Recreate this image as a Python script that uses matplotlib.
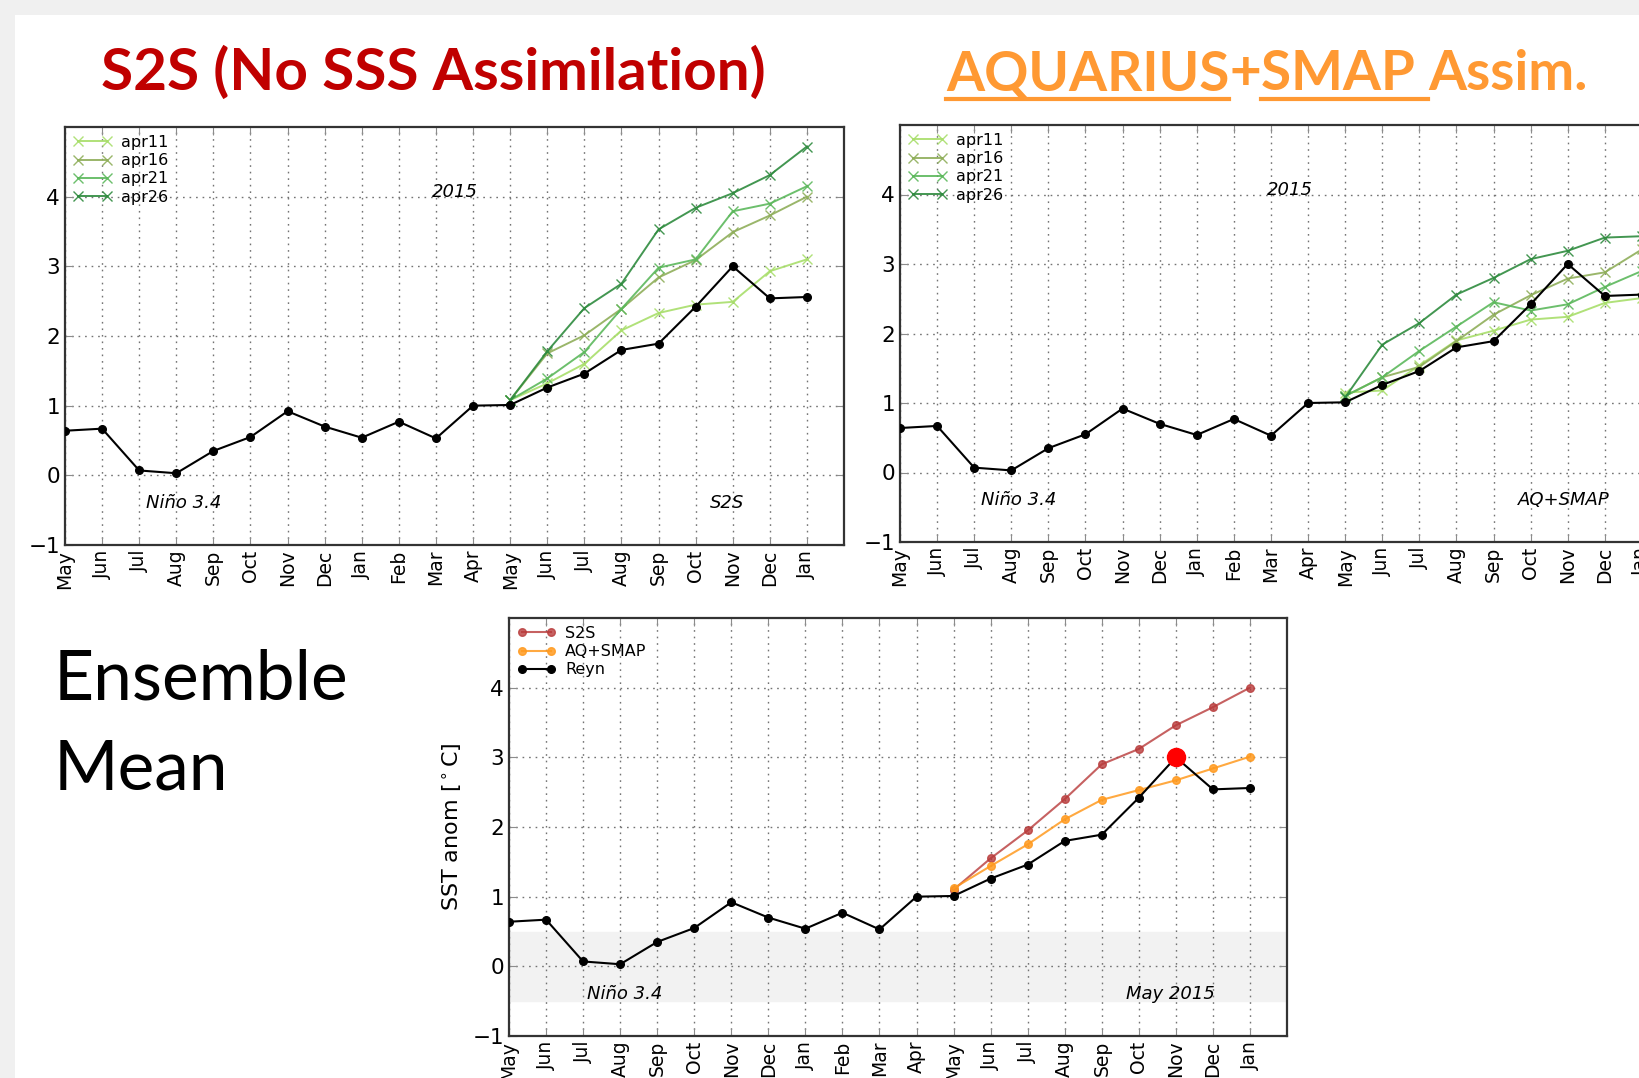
import matplotlib
matplotlib.use('Agg')
import matplotlib.pyplot as plt
from matplotlib.patches import Rectangle
from matplotlib.lines import Line2D

# ----------------------
#       data
# ----------------------
months = ['May', 'Jun', 'Jul', 'Aug', 'Sep', 'Oct', 'Nov', 'Dec', 'Jan', 'Feb', 'Mar',
          'Apr', 'May', 'Jun', 'Jul', 'Aug', 'Sep', 'Oct', 'Nov', 'Dec', 'Jan']
reyn = [0.64, 0.67, 0.07, 0.03, 0.35, 0.55, 0.92, 0.70, 0.54, 0.77, 0.53,
        1.00, 1.01, 1.26, 1.46, 1.80, 1.89, 2.42, 3.00, 2.54, 2.56]
fc_start = 12   # forecasts start at the second May

members = ['apr11', 'apr16', 'apr21', 'apr26']
s2s_apr11 = [1.08, 1.32, 1.60, 2.08, 2.33, 2.45, 2.49, 2.93, 3.10]
s2s_apr16 = [1.08, 1.75, 2.01, 2.39, 2.84, 3.09, 3.49, 3.73, 4.00]
s2s_apr21 = [1.08, 1.39, 1.77, 2.39, 2.98, 3.10, 3.79, 3.90, 4.15]
s2s_apr26 = [1.08, 1.78, 2.40, 2.75, 3.53, 3.84, 4.05, 4.31, 4.72]

aq_apr11 = [1.15, 1.18, 1.54, 1.90, 2.04, 2.20, 2.24, 2.44, 2.51]
aq_apr16 = [1.10, 1.37, 1.52, 1.89, 2.27, 2.55, 2.79, 2.88, 3.21]
aq_apr21 = [1.10, 1.37, 1.75, 2.10, 2.45, 2.33, 2.42, 2.67, 2.90]
aq_apr26 = [1.08, 1.84, 2.15, 2.56, 2.80, 3.07, 3.19, 3.38, 3.40]

ens_s2s = [1.10, 1.55, 1.95, 2.40, 2.90, 3.12, 3.46, 3.72, 4.00]
ens_aq = [1.12, 1.44, 1.75, 2.11, 2.39, 2.53, 2.67, 2.84, 3.01]
peak_idx = 18   # Nov 2015 peak, marked by the red dot

member_colors = ['#a8de6a', '#8fae5a', '#5cb85c', '#2e8b3e']

W, H = 1640, 1078


def fig_rect(l, t, r, b):
    # pixel box -> figure fraction
    return [l / W, 1 - b / H, (r - l) / W, (b - t) / H]


def style_axes(ax):
    ax.set_xlim(0, 21)
    ax.set_ylim(-1, 5)
    ax.set_xticks(range(len(months)))
    ax.set_xticklabels(months, rotation=90, fontsize=13.5)
    ax.set_yticks(range(-1, 5))
    ax.tick_params(axis='y', labelsize=15.5)
    ax.grid(True, color='0.45', linestyle=(0, (1.2, 3.5)), linewidth=1)
    ax.tick_params(direction='in', top=True, right=True, length=6, color='0.55')
    for sp in ax.spines.values():
        sp.set_linewidth(1.6)
        sp.set_color('0.2')
    ax.set_axisbelow(True)


def add_legend(ax):
    ax.legend(loc='upper left', frameon=False, fontsize=11.5, numpoints=2,
              handlelength=2.4, labelspacing=0.2, borderaxespad=0.3,
              handletextpad=0.6, borderpad=0.2)


def plot_reyn(ax):
    ax.plot(range(len(reyn)), reyn, '-o', color='black', lw=1.5, ms=5.5, zorder=4)


def plot_members(ax, series):
    x = range(fc_start, fc_start + len(series[0]))
    for name, vals, col in zip(members, series, member_colors):
        ax.plot(x, vals, '-x', color=col, lw=1.4, ms=7, mew=1, alpha=0.9, label=name)
    add_legend(ax)


fig = plt.figure(figsize=(16.4, 10.78), dpi=100, facecolor='#f0f0f0')
fig.add_artist(Rectangle((15 / W, 0), 1, 1 - 15 / H, transform=fig.transFigure,
                         facecolor='white', edgecolor='none', zorder=-5))

# top left: S2S members
ax1 = fig.add_axes(fig_rect(65, 127, 844, 545))
plot_members(ax1, [s2s_apr11, s2s_apr16, s2s_apr21, s2s_apr26])
plot_reyn(ax1)
style_axes(ax1)
ax1.text(10.5, 4.07, '2015', style='italic', fontsize=13, ha='center', va='center')
ax1.text(3.2, -0.4, 'Niño 3.4', style='italic', fontsize=13, ha='center', va='center')
ax1.text(17.85, -0.4, 'S2S', style='italic', fontsize=13, ha='center', va='center')

# top right: AQ+SMAP members (runs past the slide edge)
ax2 = fig.add_axes(fig_rect(900, 125, 1679, 542))
plot_members(ax2, [aq_apr11, aq_apr16, aq_apr21, aq_apr26])
plot_reyn(ax2)
style_axes(ax2)
ax2.text(10.5, 4.07, '2015', style='italic', fontsize=13, ha='center', va='center')
ax2.text(3.2, -0.4, 'Niño 3.4', style='italic', fontsize=13, ha='center', va='center')
ax2.text(17.9, -0.4, 'AQ+SMAP', style='italic', fontsize=13, ha='center', va='center')

# bottom: ensemble means
ax3 = fig.add_axes(fig_rect(509, 618, 1287, 1036))
ax3.axhspan(-0.5, 0.5, color='#f2f2f2', zorder=0)
xf = range(fc_start, fc_start + len(ens_s2s))
ax3.plot(xf, ens_s2s, '-o', color='#b83a3a', alpha=0.8, lw=1.5, ms=5.5, label='S2S', zorder=3)
ax3.plot(xf, ens_aq, '-o', color='#ff9a1f', alpha=0.85, lw=1.5, ms=5.5, label='AQ+SMAP', zorder=3)
ax3.plot(range(len(reyn)), reyn, '-o', color='black', lw=1.5, ms=5.5, label='Reyn', zorder=4)
ax3.plot(peak_idx, reyn[peak_idx], 'o', color='red', ms=13, zorder=5)
style_axes(ax3)
add_legend(ax3)
ax3.set_ylabel('SST anom [$^\\circ$C]', fontsize=16)
ax3.yaxis.set_label_coords(-0.058, 0.5)
ax3.text(3.13, -0.39, 'Niño 3.4', style='italic', fontsize=13, ha='center', va='center')
ax3.text(17.85, -0.39, 'May 2015', style='italic', fontsize=13, ha='center', va='center')

# slide titles
renderer = fig.canvas.get_renderer()
fig.text(101 / W, 1 - 90 / H, 'S2S (No SSS Assimilation)', color='#c00000',
         ha='left', va='baseline', family=['Lato', 'DejaVu Sans'], weight='bold', fontsize=42)

orange = '#ff9933'
x_px = 946
pieces = [('AQUARIUS', True), ('+', False), ('SMAP ', True), ('Assim.', False)]
for s, underline in pieces:
    t = fig.text(x_px / W, 1 - 90 / H, s, color=orange, ha='left', va='baseline',
                 family=['Lato', 'DejaVu Sans'], weight='bold', fontsize=39.5)
    w = t.get_window_extent(renderer).width
    if underline:
        fig.add_artist(Line2D([x_px / W, (x_px + w) / W], [1 - 99 / H, 1 - 99 / H],
                              color=orange, lw=3, transform=fig.transFigure))
    x_px += w

body_font = dict(family=['Lato', 'DejaVu Sans'], fontsize=50)
fig.text(54 / W, 1 - 699 / H, 'Ensemble', color='black', ha='left', va='baseline', **body_font)
fig.text(54 / W, 1 - 790 / H, 'Mean', color='black', ha='left', va='baseline', **body_font)

fig.savefig('out.png', dpi=100, facecolor=fig.get_facecolor())
